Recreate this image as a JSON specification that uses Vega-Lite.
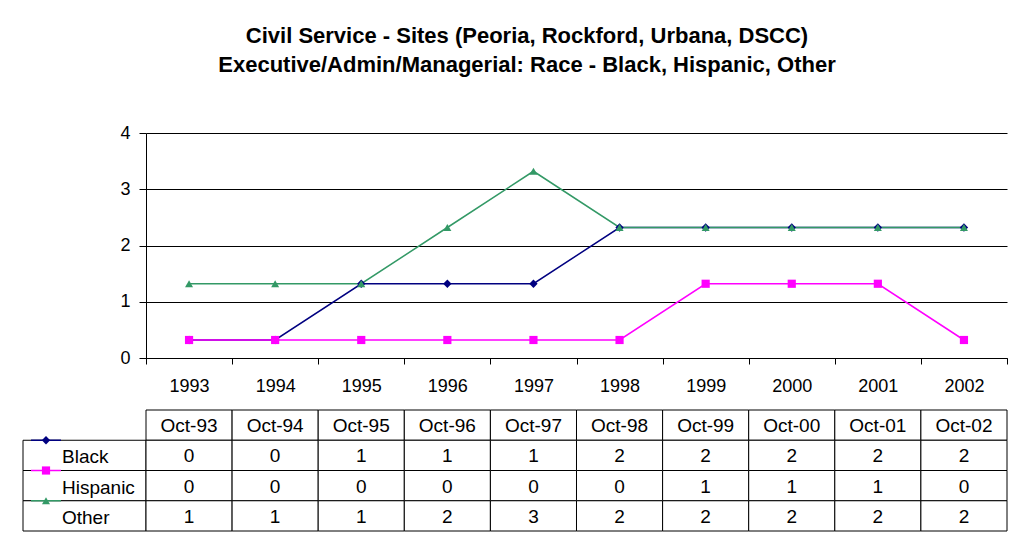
{
  "$schema": "https://vega.github.io/schema/vega-lite/v6.json",
  "background": "white",
  "padding": {"left": 22, "top": 25, "right": 5, "bottom": 5},
  "title": {
    "text": ["Civil Service - Sites (Peoria, Rockford, Urbana, DSCC)", "Executive/Admin/Managerial: Race - Black, Hispanic, Other"],
    "font": "Liberation Sans",
    "fontSize": 22,
    "fontWeight": "bold",
    "color": "black",
    "lineHeight": 29,
    "anchor": "middle",
    "dx": 12,
    "offset": 47
  },
  "columns": 2,
  "spacing": {"row": 52, "column": 0},
  "bounds": "flush",
  "datasets": {
    "series": [
      {"year": "1993", "series": "Black", "value": 0.32},
      {"year": "1994", "series": "Black", "value": 0.32},
      {"year": "1995", "series": "Black", "value": 1.32},
      {"year": "1996", "series": "Black", "value": 1.32},
      {"year": "1997", "series": "Black", "value": 1.32},
      {"year": "1998", "series": "Black", "value": 2.32},
      {"year": "1999", "series": "Black", "value": 2.32},
      {"year": "2000", "series": "Black", "value": 2.32},
      {"year": "2001", "series": "Black", "value": 2.32},
      {"year": "2002", "series": "Black", "value": 2.32},
      {"year": "1993", "series": "Hispanic", "value": 0.32},
      {"year": "1994", "series": "Hispanic", "value": 0.32},
      {"year": "1995", "series": "Hispanic", "value": 0.32},
      {"year": "1996", "series": "Hispanic", "value": 0.32},
      {"year": "1997", "series": "Hispanic", "value": 0.32},
      {"year": "1998", "series": "Hispanic", "value": 0.32},
      {"year": "1999", "series": "Hispanic", "value": 1.32},
      {"year": "2000", "series": "Hispanic", "value": 1.32},
      {"year": "2001", "series": "Hispanic", "value": 1.32},
      {"year": "2002", "series": "Hispanic", "value": 0.32},
      {"year": "1993", "series": "Other", "value": 1.32},
      {"year": "1994", "series": "Other", "value": 1.32},
      {"year": "1995", "series": "Other", "value": 1.32},
      {"year": "1996", "series": "Other", "value": 2.32},
      {"year": "1997", "series": "Other", "value": 3.32},
      {"year": "1998", "series": "Other", "value": 2.32},
      {"year": "1999", "series": "Other", "value": 2.32},
      {"year": "2000", "series": "Other", "value": 2.32},
      {"year": "2001", "series": "Other", "value": 2.32},
      {"year": "2002", "series": "Other", "value": 2.32}
    ],
    "months": [
      {"year": "1993", "row": "Month", "label": "Oct-93"},
      {"year": "1994", "row": "Month", "label": "Oct-94"},
      {"year": "1995", "row": "Month", "label": "Oct-95"},
      {"year": "1996", "row": "Month", "label": "Oct-96"},
      {"year": "1997", "row": "Month", "label": "Oct-97"},
      {"year": "1998", "row": "Month", "label": "Oct-98"},
      {"year": "1999", "row": "Month", "label": "Oct-99"},
      {"year": "2000", "row": "Month", "label": "Oct-00"},
      {"year": "2001", "row": "Month", "label": "Oct-01"},
      {"year": "2002", "row": "Month", "label": "Oct-02"}
    ]
  },
  "concat": [
    {
      "width": 123,
      "height": 225,
      "data": {"values": [{}]},
      "mark": {"type": "text", "text": ""}
    },
    {
      "width": 861,
      "height": 225,
      "data": {"name": "series"},
      "encoding": {
        "x": {
          "field": "year", "type": "ordinal",
          "scale": {"type": "band", "paddingInner": 0, "paddingOuter": 0},
          "axis": {"title": null, "tickBand": "extent", "labelFontSize": 18, "labelPadding": 13, "tickSize": 6, "labelAngle": 0, "grid": false, "domainColor": "black", "tickColor": "black", "labelColor": "black"}
        },
        "y": {
          "field": "value", "type": "quantitative",
          "scale": {"domain": [0, 4]},
          "axis": {"title": null, "values": [0, 1, 2, 3, 4], "grid": true, "gridColor": "black", "gridOpacity": 1, "tickSize": 7, "labelPadding": 9, "labelFontSize": 18, "domainColor": "black", "tickColor": "black", "labelColor": "black"}
        },
        "color": {
          "field": "series", "type": "nominal",
          "scale": {"domain": ["Black", "Hispanic", "Other"], "range": ["#000080", "#FF00FF", "#339966"]},
          "legend": null
        }
      },
      "layer": [
        {"mark": {"type": "line", "strokeWidth": 1.5}},
        {
          "mark": {"type": "point", "filled": true, "opacity": 1},
          "encoding": {
            "shape": {"field": "series", "type": "nominal", "scale": {"domain": ["Black", "Hispanic", "Other"], "range": ["diamond", "square", "triangle-up"]}, "legend": null},
            "size": {"field": "series", "type": "nominal", "scale": {"domain": ["Black", "Hispanic", "Other"], "range": [70, 64, 95]}, "legend": null}
          }
        }
      ]
    },
    {
      "width": 123,
      "height": 121,
      "data": {"name": "series"},
      "transform": [{"filter": "datum.year === '1993'"}],
      "encoding": {
        "y": {"field": "series", "type": "nominal", "scale": {"type": "band", "domain": ["Month", "Black", "Hispanic", "Other"], "paddingInner": 0, "paddingOuter": 0}, "axis": null}
      },
      "layer": [
        {
          "mark": {"type": "rect", "fill": "white", "stroke": "black", "strokeWidth": 1},
          "encoding": {
            "x": {"datum": 0, "type": "quantitative", "scale": {"domain": [0, 1]}, "axis": null},
            "x2": {"datum": 1}
          }
        },
        {
          "mark": {"type": "text", "align": "left", "fontSize": 19, "color": "black", "dy": 2},
          "encoding": {
            "x": {"datum": 0.317, "type": "quantitative"},
            "text": {"field": "series"}
          }
        },
        {
          "mark": {"type": "rule", "strokeWidth": 1.5},
          "encoding": {
            "x": {"datum": 0.065, "type": "quantitative"},
            "x2": {"datum": 0.309},
            "y": {"field": "series", "type": "nominal", "bandPosition": 0},
            "color": {"field": "series", "type": "nominal", "scale": {"domain": ["Black", "Hispanic", "Other"], "range": ["#000080", "#FF00FF", "#339966"]}, "legend": null}
          }
        },
        {
          "mark": {"type": "point", "filled": true, "opacity": 1},
          "encoding": {
            "x": {"datum": 0.187, "type": "quantitative"},
            "y": {"field": "series", "type": "nominal", "bandPosition": 0},
            "color": {"field": "series", "type": "nominal", "scale": {"domain": ["Black", "Hispanic", "Other"], "range": ["#000080", "#FF00FF", "#339966"]}, "legend": null},
            "shape": {"field": "series", "type": "nominal", "scale": {"domain": ["Black", "Hispanic", "Other"], "range": ["diamond", "square", "triangle-up"]}, "legend": null},
            "size": {"field": "series", "type": "nominal", "scale": {"domain": ["Black", "Hispanic", "Other"], "range": [70, 64, 95]}, "legend": null}
          }
        }
      ]
    },
    {
      "width": 861,
      "height": 121,
      "layer": [
        {
          "data": {"name": "months"},
          "mark": {"type": "rect", "fill": "white", "stroke": "black", "strokeWidth": 1},
          "encoding": {
            "x": {"field": "year", "type": "ordinal", "scale": {"type": "band", "paddingInner": 0, "paddingOuter": 0}, "axis": null},
            "y": {"field": "row", "type": "nominal", "scale": {"type": "band", "domain": ["Month", "Black", "Hispanic", "Other"], "paddingInner": 0, "paddingOuter": 0}, "axis": null}
          }
        },
        {
          "data": {"name": "months"},
          "mark": {"type": "text", "fontSize": 19, "color": "black", "dy": 1},
          "encoding": {
            "x": {"field": "year", "type": "ordinal"},
            "y": {"field": "row", "type": "nominal"},
            "text": {"field": "label"}
          }
        },
        {
          "data": {"name": "series"},
          "mark": {"type": "rect", "fill": "white", "stroke": "black", "strokeWidth": 1},
          "encoding": {
            "x": {"field": "year", "type": "ordinal"},
            "y": {"field": "series", "type": "nominal"}
          }
        },
        {
          "data": {"name": "series"},
          "mark": {"type": "text", "fontSize": 19, "color": "black", "dy": 1},
          "encoding": {
            "x": {"field": "year", "type": "ordinal"},
            "y": {"field": "series", "type": "nominal"},
            "text": {"field": "value", "type": "quantitative", "format": ".0f"}
          }
        }
      ]
    }
  ],
  "config": {
    "font": "Liberation Sans",
    "view": {"stroke": null},
    "axis": {"labelFont": "Liberation Sans"},
    "text": {"font": "Liberation Sans"}
  }
}
